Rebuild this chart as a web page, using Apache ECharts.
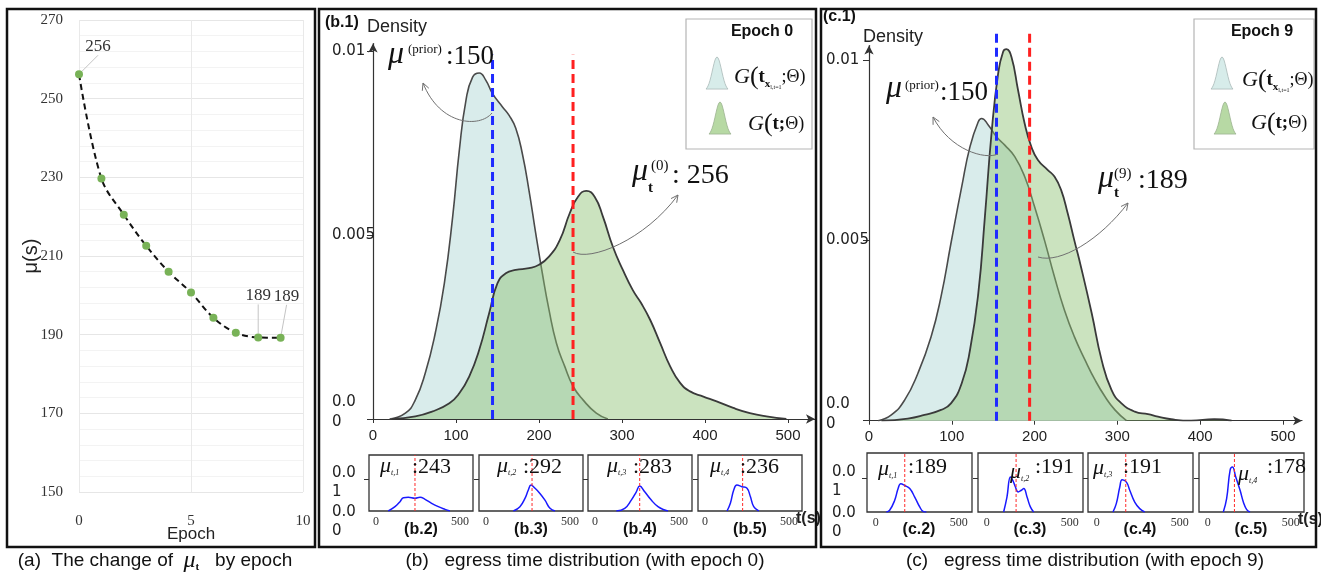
<!DOCTYPE html>
<html><head><meta charset="utf-8">
<script src="https://cdn.jsdelivr.net/npm/echarts@6/dist/echarts.min.js"></script>
<style>html,body{margin:0;padding:0;background:#fff}#c{width:1321px;height:573px}</style>
</head><body><div id="c"></div>
<script>
// ---------- DATA ----------
// (a) mean egress time by epoch
const epochs = [0,1,2,3,4,5,6,7,8,9];
const muByEpoch = [256.2,229.7,220.5,212.6,206.0,200.7,194.3,190.5,189.3,189.2];
const labelledEpochs = [0,8,9];

// (b.1) epoch 0 — t in s, density in 1e-3
const b1PriorT = [20,39,51,63,75,86,96,104,112,120,128,136,144,156,164,172,180,188,196,204,212,221,231,241,253,269,283];
const b1PriorD = [0,0.16,0.52,1.25,2.33,3.69,5.5,7.3,8.66,9.29,9.4,9.2,8.84,8.48,8.25,7.9,7.2,6.2,5.05,3.96,2.97,2.06,1.43,0.89,0.52,0.16,0];
const b1PostT = [23,51,71,92,104,116,128,140,150,160,172,188,200,212,225,237,247,257,267,277,289,301,313,323,334,346,358,370,382,398,414,434,454,474,498];
const b1PostD = [0,0.07,0.2,0.43,0.7,1.16,1.88,2.88,3.69,3.96,4.05,4.1,4.19,4.41,4.86,5.59,6.04,6.2,6.04,5.5,4.68,4.05,3.5,3.15,2.69,2.06,1.43,0.98,0.75,0.61,0.48,0.3,0.16,0.07,0];
const b1Lines = {prior:144, mean:241, top:9.9};

// (c.1) epoch 9
const c1PriorT = [11,27,43,59,75,87,99,112,122,132,136,144,154,164,176,188,200,212,224,236,248,261,273,285,297,311];
const c1PriorD = [0,0.16,0.57,1.31,2.33,3.44,4.92,6.49,7.6,8.29,8.38,8.2,7.87,7.64,7.32,6.77,5.93,5.0,3.99,3.07,2.33,1.68,1.13,0.67,0.3,0];
const c1PostT = [15,47,67,87,99,112,122,132,140,148,156,162,166,172,180,188,196,204,216,224,232,240,248,256,269,281,293,305,321,337,349,365,389,417,438];
const c1PostD = [0,0.06,0.16,0.3,0.48,1.04,1.96,3.53,5.66,7.97,9.63,10.23,10.3,10.09,9.17,8.24,7.6,7.23,6.95,6.77,6.4,5.75,5.0,4.27,2.98,1.68,0.85,0.48,0.25,0.18,0.11,0.04,0,0.04,0];
const c1Lines = {prior:154, mean:194, top:10.75};

// small panels (b.2–b.5), (c.2–c.5)
const bSmallT = [
  [73,113,143,163,192,232,262,292,331,371,411,440],
  [163,202,232,252,268,292,321,351,381,411],
  [127,177,216,246,266,296,335,375,415,435],
  [131,151,171,190,220,250,270,290,320]];
const bSmallD = [
  [0,1.35,2.9,4.17,4.27,3.96,4.27,3.65,2.4,1.35,0.52,0],
  [0,1.35,3.96,6.56,8.1,7.1,5.5,3.4,0.83,0],
  [0,0.83,3.4,6.0,7.8,6.0,3.4,1.35,0.3,0],
  [0,2.4,6.56,8.1,7.6,7.1,4.5,1.35,0]];
const bSmallRed = [232,274,266,224];
const bSmallMu = [243,292,283,236];
const cSmallT = [
  [64,84,114,135,151,175,205,235,265,285,305],
  [102,122,143,157,173,189,209,223,243,263,283],
  [98,118,139,153,179,199,229,259,289],
  [94,114,135,149,169,195,215,235,255]];
const cSmallD = [
  [0,0.5,3.4,6.9,8.3,7.8,6.9,4.4,1.5,0.2,0],
  [0,4.4,10.3,9.3,7.35,5.9,6.4,6.9,4.4,1.5,0],
  [0,2.45,7.35,9.5,8.8,6.4,2.9,1.0,0],
  [0,3.9,12.3,13.2,10.3,6.4,2.9,0.7,0]];
const cSmallRed = [175,177,175,161];
const cSmallMu = [189,191,191,178];
const smallNames = ['1','2','3','4'];

const mainXTicks = [0,100,200,300,400,500];
const mainYTicks = [0,0.005,0.01];
const smallXTicks = [0,500];

// ---------- BUILD ----------
const SERIF = 'Liberation Serif', SANS = 'Liberation Sans', AXF = 'DejaVu Sans';
const zip = (t, d) => t.map((x, i) => [x, d[i] / 1000]);
const grid = [], xAxis = [], yAxis = [], series = [];
const lab = (lh) => ({a:{fontFamily:AXF, fontSize:15, lineHeight:lh, color:'#222'}});

// (a)
grid.push({left:79, top:20, width:224, height:472, outerBoundsMode:'none'});
xAxis.push({gridIndex:0, type:'value', min:0, max:10, interval:5,
  axisLine:{show:false}, axisTick:{show:false},
  splitLine:{show:true, lineStyle:{color:'#e9e9e9', width:1}},
  axisLabel:{fontFamily:SERIF, fontSize:15, color:'#333', margin:22},
  name:'Epoch', nameLocation:'middle', nameGap:34, nameMoveOverlap:false,
  nameTextStyle:{fontFamily:SANS, fontSize:17, color:'#222'}});
yAxis.push({gridIndex:0, type:'value', position:'left', min:150, max:270, interval:20,
  axisLine:{show:false}, axisTick:{show:false},
  splitLine:{show:true, lineStyle:{color:'#e6e6e6', width:1}},
  minorTick:{show:false, splitNumber:5},
  minorSplitLine:{show:true, lineStyle:{color:'#f3f3f3', width:1}},
  axisLabel:{fontFamily:SERIF, fontSize:15, color:'#333', margin:16},
  name:'μ(s)', nameLocation:'middle', nameGap:38, nameRotate:90, nameMoveOverlap:false,
  nameTextStyle:{fontFamily:SANS, fontSize:20, color:'#222'}});
series.push({type:'line', xAxisIndex:0, yAxisIndex:0,
  data: epochs.map((e, i) => {
    const it = {value:[e, muByEpoch[i]]};
    if (labelledEpochs.includes(e)) it.label = {show:true};
    return it;
  }),
  smooth:0.35, symbol:'circle', symbolSize:8,
  itemStyle:{color:'#78b257'},
  lineStyle:{color:'#111', width:2, type:[6,4]},
  label:{show:false, position:'top', distance:5, fontFamily:SERIF, fontSize:17, color:'#333',
    formatter: p => String(Math.round(p.value[1]))},
  labelLine:{show:true, lineStyle:{color:'#c4c4c4', width:1}},
  labelLayout: p => (p.dataIndex === 0 ? {dx:19, dy:-10} : p.dataIndex === 8 ? {dx:0, dy:-24} : {dx:6, dy:-24}),
  z:3});

function addMain(o) {
  const gi = grid.length;
  grid.push({left:o.left, top:o.top, width:o.width, height:o.height, outerBoundsMode:'none'});
  const xi = xAxis.length;
  xAxis.push({gridIndex:gi, type:'value', position:'bottom', min:0, max:o.xMax,
    axisLine:{show:true, onZero:false, symbol:['none','arrow'], symbolSize:[7,9], lineStyle:{color:'#333', width:1.2}},
    axisTick:{show:true, inside:false, customValues:mainXTicks, length:4, lineStyle:{color:'#333'}},
    axisLabel:{customValues:mainXTicks, fontFamily:SANS, fontSize:15, color:'#222', margin:9},
    splitLine:{show:false}});
  const yi = yAxis.length;
  yAxis.push({gridIndex:gi, type:'value', position:'left', min:0, max:o.yMax,
    name:'Density', nameLocation:'end', nameGap:o.nameGap, nameMoveOverlap:false,
    nameTextStyle:{fontFamily:SANS, fontSize:18, color:'#222', align:'left', verticalAlign:'middle', padding:[0,0,0,-6]},
    axisLine:{show:true, onZero:false, symbol:['none','arrow'], symbolSize:[7,9], lineStyle:{color:'#333', width:1.2}},
    axisTick:{show:true, inside:false, customValues:mainYTicks, length:6, lineStyle:{color:'#333'}},
    axisLabel:{customValues:[0.005, 0.01], formatter: v => String(v), fontFamily:AXF, fontSize:15, color:'#222', align:'left', margin:o.labelMargin},
    splitLine:{show:false}});
  yAxis.push({gridIndex:gi, type:'value', position:'left', min:0, max:o.yMax,
    axisLine:{show:false, onZero:false}, axisTick:{show:false}, splitLine:{show:false},
    axisLabel:{customValues:[0], formatter: () => '{a|0.0}\n{a|0}\n{e| }', rich:Object.assign(lab(20), {e:{fontSize:1, lineHeight:14}}),
      align:'left', margin:o.labelMargin}});
  series.push({type:'line', xAxisIndex:xi, yAxisIndex:yi, data:zip(o.priorT, o.priorD),
    smooth:0.5, symbol:'none',
    lineStyle:{color:'#4a4a4a', width:1.6}, areaStyle:{color:'#d9eceb', opacity:1}, z:2, silent:true});
  series.push({type:'line', xAxisIndex:xi, yAxisIndex:yi, data:zip(o.postT, o.postD),
    smooth:0.5, symbol:'none',
    lineStyle:{color:'#3a3a3a', width:1.8}, areaStyle:{color:'rgba(140,193,113,0.45)', opacity:1}, z:3, silent:true});
  series.push({type:'line', xAxisIndex:xi, yAxisIndex:yi, clip:false, symbol:'none', silent:true,
    data:[[o.lines.prior, 0], [o.lines.prior, o.lines.top / 1000]],
    lineStyle:{color:'#1f2bff', width:3, type:[9,5]}, z:5});
  series.push({type:'line', xAxisIndex:xi, yAxisIndex:yi, clip:false, symbol:'none', silent:true,
    data:[[o.lines.mean, 0], [o.lines.mean, o.lines.top / 1000]],
    lineStyle:{color:'#ff2020', width:3, type:[9,5]}, z:5});
}
addMain({left:373, top:43.6, width:442, height:375.4, xMax:532.5, yMax:0.0102, nameGap:16.6, labelMargin:41,
  priorT:b1PriorT, priorD:b1PriorD, postT:b1PostT, postD:b1PostD, lines:b1Lines});
addMain({left:869, top:45.6, width:433, height:375.1, xMax:523, yMax:0.0104, nameGap:8.6, labelMargin:43,
  priorT:c1PriorT, priorD:c1PriorD, postT:c1PostT, postD:c1PostD, lines:c1Lines});

function addSmall(o) {
  const gi = grid.length;
  grid.push({left:o.left, top:o.top, width:o.width, height:o.height, show:true, borderColor:'#333', borderWidth:1.3,
    backgroundColor:'rgba(0,0,0,0)', outerBoundsMode:'none'});
  const xi = xAxis.length;
  xAxis.push({gridIndex:gi, type:'value', position:'bottom', min:o.xMin, max:o.xMax,
    axisLine:{show:false, onZero:false}, axisTick:{show:false}, splitLine:{show:false},
    axisLabel:{customValues:smallXTicks, fontFamily:SERIF, fontSize:12, color:'#333', margin:5},
    name: o.last ? 't(s)' : '', nameLocation:'end', nameGap:-6, nameMoveOverlap:false,
    nameTextStyle:{fontFamily:SANS, fontWeight:'bold', fontSize:16, color:'#222', align:'left', verticalAlign:'top'}});
  const yi = yAxis.length;
  yAxis.push({gridIndex:gi, type:'value', position:'left', min:0, max:o.yMax,
    axisLine:{show:false, onZero:false}, splitLine:{show:false},
    axisTick:{show:true, inside:false, customValues:[0.01], length:5, lineStyle:{color:'#333'}},
    axisLabel:{show:o.first, customValues:[0.01], formatter: () => '{e| }\n{a|0.0}\n{a|1}',
      rich:Object.assign(lab(19), {e:{fontSize:1, lineHeight:7}}), align:'left', margin:o.labelMargin}});
  if (o.first) {
    yAxis.push({gridIndex:gi, type:'value', position:'left', min:0, max:o.yMax,
      axisLine:{show:false, onZero:false}, axisTick:{show:false}, splitLine:{show:false},
      axisLabel:{customValues:[0], formatter: () => '{e| }\n{a|0.0}\n{a|0}',
        rich:Object.assign(lab(19), {e:{fontSize:1, lineHeight:21}}), align:'left', margin:o.labelMargin}});
  }
  series.push({type:'line', xAxisIndex:xi, yAxisIndex:yi, data:zip(o.t, o.d),
    smooth:0.45, symbol:'none', silent:true,
    lineStyle:{color:'#1a1aff', width:1.5}, z:3});
  series.push({type:'line', xAxisIndex:xi, yAxisIndex:yi, data:[[o.red, 0], [o.red, o.yMax]],
    symbol:'none', silent:true, lineStyle:{color:'#ff2a2a', width:1, type:[3,2]}, z:4});
}
const bLefts = [369,479,588,698], cLefts = [867,978,1088,1199];
bLefts.forEach((L, i) => addSmall({left:L, top:455, width:104, height:56, xMin:-41.7, xMax:577.4, yMax:0.0175,
  t:bSmallT[i], d:bSmallD[i], red:bSmallRed[i], first:i === 0, last:i === 3, labelMargin:37}));
cLefts.forEach((L, i) => addSmall({left:L, top:453, width:105, height:59, xMin:-52.4, xMax:580, yMax:0.01735,
  t:cSmallT[i], d:cSmallD[i], red:cSmallRed[i], first:i === 0, last:i === 3, labelMargin:35}));

// ---------- ANNOTATIONS ----------
function T(x, y, text, size, extra) {
  return {type:'text', x, y, silent:true, z:50,
    style:Object.assign({text, fontSize:size, fontFamily:SERIF, fill:'#111',
      align:'left', verticalAlign:'middle', textAlign:'left', textVerticalAlign:'middle'}, extra || {})};
}
function arrow(p0, p1, p2, p3) {
  const dx = p3[0] - p2[0], dy = p3[1] - p2[1], L = Math.hypot(dx, dy), ux = dx / L, uy = dy / L;
  const bx = p3[0] - ux * 7, by = p3[1] - uy * 7;
  return [
    {type:'bezierCurve', silent:true, z:40,
      shape:{x1:p0[0], y1:p0[1], cpx1:p1[0], cpy1:p1[1], cpx2:p2[0], cpy2:p2[1], x2:p3[0], y2:p3[1]},
      style:{stroke:'#707070', lineWidth:1, fill:null}},
    {type:'polyline', silent:true, z:40,
      shape:{points:[[bx - uy * 3.5, by + ux * 3.5], p3, [bx + uy * 3.5, by - ux * 3.5]]},
      style:{stroke:'#707070', lineWidth:1, fill:null}}];
}
const rich = {
  g:{fontFamily:SERIF, fontStyle:'italic', fontSize:22, fill:'#111', color:'#111'},
  p:{fontFamily:SERIF, fontSize:26, fill:'#111', color:'#111'},
  t:{fontFamily:SERIF, fontWeight:'bold', fontSize:19, fill:'#111', color:'#111'},
  x:{fontFamily:SERIF, fontWeight:'bold', fontSize:11, fill:'#111', color:'#111', verticalAlign:'bottom'},
  s:{fontFamily:SERIF, fontSize:6, fill:'#111', color:'#111', verticalAlign:'bottom'},
  q:{fontFamily:SERIF, fontSize:18, fill:'#111', color:'#111'},
  n:{fontFamily:SANS, fontSize:19, fill:'#111', color:'#111'},
  m:{fontFamily:SERIF, fontStyle:'italic', fontSize:24, fill:'#111', color:'#111'},
  mb:{fontFamily:SERIF, fontWeight:'bold', fontSize:11, fill:'#111', color:'#111', verticalAlign:'bottom'},
  sm:{fontFamily:SERIF, fontStyle:'italic', fontSize:22, fill:'#111', color:'#111'},
  ss:{fontFamily:SERIF, fontStyle:'italic', fontSize:8, fill:'#111', color:'#111', verticalAlign:'bottom'}
};
// legend icon outline (bell shape), 22 x 34 px
const bellPts = [];
for (let k = 0; k <= 22; k++) bellPts.push([k, 34 - 34 * Math.exp(-Math.pow((k - 11) / 4.6, 2) / 2)]);
function bellShape(x, y, fill, stroke) {
  return {type:'polygon', silent:true, z:50, x, y,
    shape:{points:bellPts, smooth:0}, style:{fill, stroke, lineWidth:0.8}};
}
function legend(x0, x1, y0, y1, title, tx, bellX, t1x, t2x, t1y, t2y) {
  return [
    {type:'rect', silent:true, z:30, shape:{x:x0, y:y0, width:x1 - x0, height:y1 - y0},
      style:{fill:'#fff', stroke:'#b5b5b5', lineWidth:1.2}},
    T(tx, 32, title, 16, {fontFamily:SANS, fontWeight:'bold', align:'center', textAlign:'center'}),
    bellShape(bellX, y0 + 38, '#d7ecea', '#a9b9b7'),
    bellShape(bellX + 3, y0 + 83, '#b7d9a4', '#9cb291'),
    T(t1x, t1y, '{g|G}{p|(}{t|t}{x|x}{s|l,t=1}{q|;Θ)}', 20, {rich}),
    T(t2x, t2y, '{g|G}{p|(}{t|t;}{q|Θ)}', 20, {rich})
  ];
}
const graphic = [
  {type:'rect', silent:true, z:60, shape:{x:7, y:9, width:308, height:538}, style:{fill:null, stroke:'#111', lineWidth:2.5}},
  {type:'rect', silent:true, z:60, shape:{x:319, y:9, width:497, height:538}, style:{fill:null, stroke:'#111', lineWidth:2.5}},
  {type:'rect', silent:true, z:60, shape:{x:821, y:9, width:495, height:538}, style:{fill:null, stroke:'#111', lineWidth:2.5}},
  T(325, 23, '(b.1)', 16, {fontFamily:SANS, fontWeight:'bold'}),
  T(823, 17, '(c.1)', 16, {fontFamily:SANS, fontWeight:'bold'}),
  ...legend(686, 812, 19, 149, 'Epoch 0', 762, 706, 734, 748, 77, 124),
  ...legend(1194, 1314, 19, 149, 'Epoch 9', 1262, 1211, 1242, 1251, 80, 123),
  // b.1 annotations
  T(388, 55, 'μ', 32, {fontStyle:'italic'}),
  T(408, 50, '(prior)', 13),
  T(446, 57, ':150', 27),
  T(632, 172, 'μ', 32, {fontStyle:'italic'}),
  T(648, 188, 't', 15, {fontWeight:'bold'}),
  T(651, 166, '(0)', 15),
  T(672, 176, ': 256', 28),
  ...arrow([492,113], [480,128], [440,126], [423,83]),
  ...arrow([573,252], [590,262], [645,240], [678,195]),
  // c.1 annotations
  T(886, 89, 'μ', 32, {fontStyle:'italic'}),
  T(905, 86, '(prior)', 13),
  T(940, 93, ':150', 27),
  T(1098, 179, 'μ', 32, {fontStyle:'italic'}),
  T(1114, 193, 't', 15, {fontWeight:'bold'}),
  T(1114, 174, '(9)', 15),
  T(1138, 181, ':189', 28),
  ...arrow([998,154], [985,160], [950,150], [933,117]),
  ...arrow([1038,257], [1060,264], [1100,240], [1128,203]),
  // captions
  T(155, 561, '{n|(a)  The change of  }{m|μ}{mb|t}{n|   by epoch}', 19, {rich, align:'center', textAlign:'center'}),
  T(585, 561, '(b)   egress time distribution (with epoch 0)', 19, {fontFamily:SANS, align:'center', textAlign:'center', fill:'#111'}),
  T(1085, 561, '(c)   egress time distribution (with epoch 9)', 19, {fontFamily:SANS, align:'center', textAlign:'center', fill:'#111'})
];
const bMuX = [380,497,607,710], bNumX = [412,523,633,740];
const cMuX = [878,1010,1093,1238], cMuY = [467,470,466,472], cNumX = [908,1035,1123,1267];
bLefts.forEach((L, i) => {
  graphic.push(T(bMuX[i], 466, '{sm|μ}{ss|t,' + smallNames[i] + '}', 22, {rich}));
  graphic.push(T(bNumX[i], 467, ':' + bSmallMu[i], 22));
  graphic.push(T(L + 52, 530, '(b.' + (i + 2) + ')', 16, {fontFamily:SANS, fontWeight:'bold', align:'center', textAlign:'center'}));
});
cLefts.forEach((L, i) => {
  graphic.push(T(cMuX[i], cMuY[i] + 2, '{sm|μ}{ss|t,' + smallNames[i] + '}', 22, {rich}));
  graphic.push(T(cNumX[i], 467, ':' + cSmallMu[i], 22));
  graphic.push(T(L + 52, 530, '(c.' + (i + 2) + ')', 16, {fontFamily:SANS, fontWeight:'bold', align:'center', textAlign:'center'}));
});

const chart = echarts.init(document.getElementById('c'), null, {renderer:'canvas'});
chart.setOption({
  backgroundColor:'#ffffff',
  animation:false,
  grid, xAxis, yAxis, series, graphic
});
</script></body></html>
